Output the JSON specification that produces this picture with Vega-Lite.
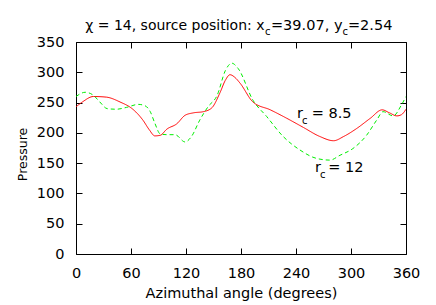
{
  "$schema": "https://vega.github.io/schema/vega-lite/v6.json",
  "width": 330,
  "height": 212,
  "autosize": "none",
  "padding": {"left": 76, "top": 42, "right": 30, "bottom": 51},
  "background": "white",
  "config": {
    "font": "DejaVu Sans",
    "view": {"stroke": "black", "strokeWidth": 1},
    "axis": {
      "grid": false,
      "domain": false,
      "tickColor": "black",
      "tickSize": -6,
      "tickWidth": 1,
      "labelPadding": 18,
      "labelFlush": false,
      "labelOverlap": false,
      "labelFont": "DejaVu Sans",
      "labelFontSize": 14.5,
      "labelColor": "black",
      "titleFont": "DejaVu Sans",
      "titleFontSize": 14.5,
      "titleFontWeight": "normal",
      "titleColor": "black"
    },
    "text": {"font": "DejaVu Sans", "color": "black"}
  },
  "datasets": {
    "curves": [
      {"series": "rc85", "angle": 0, "pressure": 243},
      {"series": "rc85", "angle": 7, "pressure": 251},
      {"series": "rc85", "angle": 19, "pressure": 260},
      {"series": "rc85", "angle": 33, "pressure": 259},
      {"series": "rc85", "angle": 48, "pressure": 251},
      {"series": "rc85", "angle": 62, "pressure": 239},
      {"series": "rc85", "angle": 73, "pressure": 221},
      {"series": "rc85", "angle": 80, "pressure": 205},
      {"series": "rc85", "angle": 86, "pressure": 195},
      {"series": "rc85", "angle": 92, "pressure": 196},
      {"series": "rc85", "angle": 99, "pressure": 206},
      {"series": "rc85", "angle": 110, "pressure": 215},
      {"series": "rc85", "angle": 119, "pressure": 229},
      {"series": "rc85", "angle": 128, "pressure": 233},
      {"series": "rc85", "angle": 139, "pressure": 235},
      {"series": "rc85", "angle": 148, "pressure": 241},
      {"series": "rc85", "angle": 157, "pressure": 266},
      {"series": "rc85", "angle": 163, "pressure": 287},
      {"series": "rc85", "angle": 168, "pressure": 296},
      {"series": "rc85", "angle": 173, "pressure": 292},
      {"series": "rc85", "angle": 179, "pressure": 282},
      {"series": "rc85", "angle": 193, "pressure": 251},
      {"series": "rc85", "angle": 212, "pressure": 238},
      {"series": "rc85", "angle": 230, "pressure": 224},
      {"series": "rc85", "angle": 248, "pressure": 209},
      {"series": "rc85", "angle": 266, "pressure": 194},
      {"series": "rc85", "angle": 281, "pressure": 187},
      {"series": "rc85", "angle": 292, "pressure": 194},
      {"series": "rc85", "angle": 306, "pressure": 207},
      {"series": "rc85", "angle": 321, "pressure": 224},
      {"series": "rc85", "angle": 334, "pressure": 238},
      {"series": "rc85", "angle": 342, "pressure": 233},
      {"series": "rc85", "angle": 350, "pressure": 228},
      {"series": "rc85", "angle": 355, "pressure": 230},
      {"series": "rc85", "angle": 360, "pressure": 239},
      {"series": "rc12", "angle": 0, "pressure": 260},
      {"series": "rc12", "angle": 10, "pressure": 267},
      {"series": "rc12", "angle": 19, "pressure": 262},
      {"series": "rc12", "angle": 26, "pressure": 251},
      {"series": "rc12", "angle": 34, "pressure": 240},
      {"series": "rc12", "angle": 44, "pressure": 239},
      {"series": "rc12", "angle": 55, "pressure": 242},
      {"series": "rc12", "angle": 68, "pressure": 247},
      {"series": "rc12", "angle": 75, "pressure": 245},
      {"series": "rc12", "angle": 81, "pressure": 235},
      {"series": "rc12", "angle": 86, "pressure": 216},
      {"series": "rc12", "angle": 92, "pressure": 198},
      {"series": "rc12", "angle": 99, "pressure": 197},
      {"series": "rc12", "angle": 108, "pressure": 197},
      {"series": "rc12", "angle": 119, "pressure": 185},
      {"series": "rc12", "angle": 126, "pressure": 194},
      {"series": "rc12", "angle": 135, "pressure": 221},
      {"series": "rc12", "angle": 144, "pressure": 243},
      {"series": "rc12", "angle": 154, "pressure": 262},
      {"series": "rc12", "angle": 163, "pressure": 303},
      {"series": "rc12", "angle": 170, "pressure": 315},
      {"series": "rc12", "angle": 177, "pressure": 306},
      {"series": "rc12", "angle": 193, "pressure": 254},
      {"series": "rc12", "angle": 208, "pressure": 227},
      {"series": "rc12", "angle": 226, "pressure": 194},
      {"series": "rc12", "angle": 244, "pressure": 172},
      {"series": "rc12", "angle": 262, "pressure": 158},
      {"series": "rc12", "angle": 277, "pressure": 155},
      {"series": "rc12", "angle": 288, "pressure": 163},
      {"series": "rc12", "angle": 302, "pressure": 174},
      {"series": "rc12", "angle": 317, "pressure": 196},
      {"series": "rc12", "angle": 328, "pressure": 221},
      {"series": "rc12", "angle": 335, "pressure": 235},
      {"series": "rc12", "angle": 346, "pressure": 228},
      {"series": "rc12", "angle": 355, "pressure": 246},
      {"series": "rc12", "angle": 360, "pressure": 260}
    ],
    "rightText": [
      {"angle": 205.6, "pressure": 369, "text": "χ = 14, source position: x"}
    ],
    "titleText": [
      {"angle": 212.7, "pressure": 369, "text": "=39.07,"},
      {"angle": 281.5, "pressure": 369, "text": "y"},
      {"angle": 296.7, "pressure": 369, "text": "=2.54"}
    ],
    "labels": [
      {"angle": 241.1, "pressure": 224, "text": "r"},
      {"angle": 257.1, "pressure": 224, "text": "= 8.5"},
      {"angle": 260.7, "pressure": 135.9, "text": "r"},
      {"angle": 275.2, "pressure": 135.9, "text": "= 12"}
    ],
    "subs": [
      {"angle": 206.2, "pressure": 361, "text": "c"},
      {"angle": 290.7, "pressure": 361, "text": "c"},
      {"angle": 246.5, "pressure": 214.1, "text": "c"},
      {"angle": 266.2, "pressure": 126, "text": "c"}
    ]
  },
  "resolve": {"axis": {"x": "independent", "y": "independent"}},
  "layer": [
    {
      "data": {"name": "curves"},
      "mark": {"type": "line", "interpolate": "monotone", "strokeWidth": 1, "clip": true},
      "encoding": {
        "x": {
          "field": "angle", "type": "quantitative",
          "scale": {"domain": [0, 360], "nice": false, "zero": false},
          "axis": {"orient": "bottom", "values": [0, 60, 120, 180, 240, 300, 360], "title": "Azimuthal angle (degrees)", "titlePadding": 7}
        },
        "y": {
          "field": "pressure", "type": "quantitative",
          "scale": {"domain": [0, 350], "nice": false, "zero": false},
          "axis": {"orient": "left", "values": [0, 50, 100, 150, 200, 250, 300, 350], "title": "Pressure", "titlePadding": 7, "titleFontSize": 12.5, "titleY": 112}
        },
        "color": {
          "field": "series", "type": "nominal",
          "scale": {"domain": ["rc85", "rc12"], "range": ["#ff0000", "#00ee00"]},
          "legend": null
        },
        "strokeDash": {
          "field": "series", "type": "nominal",
          "scale": {"domain": ["rc85", "rc12"], "range": [[1, 0], [4, 3]]},
          "legend": null
        },
        "order": {"field": "angle", "type": "quantitative"}
      }
    },
    {
      "data": {"name": "labels"},
      "mark": {"type": "text", "align": "left", "baseline": "alphabetic", "fontSize": 14.5},
      "encoding": {
        "x": {
          "field": "angle", "type": "quantitative",
          "axis": {"orient": "top", "values": [0, 60, 120, 180, 240, 300, 360], "labels": false, "title": null}
        },
        "y": {
          "field": "pressure", "type": "quantitative",
          "axis": {"orient": "right", "values": [0, 50, 100, 150, 200, 250, 300, 350], "labels": false, "title": null}
        },
        "text": {"field": "text", "type": "nominal"}
      }
    },
    {
      "data": {"name": "titleText"},
      "mark": {"type": "text", "align": "left", "baseline": "alphabetic", "fontSize": 14.5},
      "encoding": {
        "x": {"field": "angle", "type": "quantitative", "axis": null},
        "y": {"field": "pressure", "type": "quantitative", "axis": null},
        "text": {"field": "text", "type": "nominal"}
      }
    },
    {
      "data": {"name": "rightText"},
      "mark": {"type": "text", "align": "right", "baseline": "alphabetic", "fontSize": 14},
      "encoding": {
        "x": {"field": "angle", "type": "quantitative", "axis": null},
        "y": {"field": "pressure", "type": "quantitative", "axis": null},
        "text": {"field": "text", "type": "nominal"}
      }
    },
    {
      "data": {"name": "subs"},
      "mark": {"type": "text", "align": "left", "baseline": "alphabetic", "fontSize": 10},
      "encoding": {
        "x": {"field": "angle", "type": "quantitative", "axis": null},
        "y": {"field": "pressure", "type": "quantitative", "axis": null},
        "text": {"field": "text", "type": "nominal"}
      }
    }
  ]
}
